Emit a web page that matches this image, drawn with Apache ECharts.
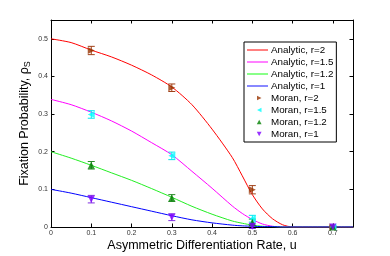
<!DOCTYPE html>
<html>
<head>
<meta charset="utf-8">
<script src="https://cdn.jsdelivr.net/npm/echarts@6/dist/echarts.min.js"></script>
<style>html,body{margin:0;padding:0;background:#fff;}#c{width:390px;height:256px;}</style>
</head>
<body>
<div id="c"></div>
<script>
const uAnalytic = [0,0.05,0.1,0.15,0.2,0.25,0.3,0.35,0.4,0.45,0.475,0.5,0.525,0.55,0.575,0.6,0.65,0.7,0.75];
const analyticR2  = [0.5,0.49,0.47,0.452,0.43,0.404,0.372,0.325,0.26,0.185,0.136,0.086,0.048,0.022,0.006,0,0,0,0];
const analyticR15 = [0.339,0.325,0.305,0.282,0.255,0.224,0.192,0.148,0.103,0.056,0.036,0.02,0.008,0.002,0,0,0,0,0];
const analyticR12 = [0.2,0.183,0.164,0.144,0.124,0.102,0.079,0.055,0.034,0.016,0.01,0.005,0.002,0.001,0,0,0,0,0];
const analyticR1  = [0.1,0.09,0.078,0.066,0.054,0.042,0.03,0.019,0.011,0.005,0.003,0.002,0.001,0.001,0,0,0,0,0];

const uMoran = [0.1,0.3,0.5,0.7];
const moranR2  = [0.469,0.370,0.099,0];
const moranR15 = [0.299,0.189,0.022,0];
const moranR12 = [0.164,0.077,0.012,0];
const moranR1  = [0.074,0.026,0.002,0];
const errR2  = [0.011,0.010,0.011,0.002];
const errR15 = [0.010,0.010,0.009,0.002];
const errR12 = [0.010,0.009,0.009,0.002];
const errR1  = [0.010,0.009,0.006,0.002];

const xTicks = [0,0.1,0.2,0.3,0.4,0.5,0.6,0.7];
const yTicks = [0,0.1,0.2,0.3,0.4,0.5];

const pairs = (xs, ys) => xs.map((x,i)=>[x, ys[i]]);
const triples = (xs, ys, es) => xs.map((x,i)=>[x, ys[i], es[i]]);

const chart = echarts.init(document.getElementById('c'), null, {renderer:'canvas'});
const font = 'Liberation Sans, Arial, Helvetica, sans-serif';

// legend icons: tiny corner specks fix the path bounding box to 21x9
const box = 'M0,0L0.01,0L0,0.01Z M21,9L20.99,9L21,8.99Z ';
const iconLine = 'path://' + box + 'M0,3.6L21,3.6L21,5.4L0,5.4Z';
const iconRight = 'path://' + box + 'M10,2.3L14.5,4.5L10,6.7Z';
const iconLeft  = 'path://' + box + 'M14.5,2.3L10,4.5L14.5,6.7Z';
const iconUp    = 'path://' + box + 'M9.8,6.7L12.2,2.3L14.6,6.7Z';
const iconDown  = 'path://' + box + 'M9.8,2.3L14.6,2.3L12.2,6.7Z';

function lineSeries(name, data, color){
  return {type:'line', name, data, symbol:'none', smooth:0.25, lineStyle:{color, width:1}, itemStyle:{color}, z:2, animation:false, xAxisIndex:0, yAxisIndex:0};
}
function scatterSeries(name, data, color, rot){
  return {type:'scatter', name, data, symbol:'triangle', symbolSize:7, symbolRotate:rot, itemStyle:{color}, z:5, animation:false, xAxisIndex:0, yAxisIndex:0};
}
function errSeries(data, color){
  return {type:'custom', data, z:4, animation:false, silent:true, xAxisIndex:0, yAxisIndex:0,
    renderItem:(params, api)=>{
      const x = api.value(0), y = api.value(1), e = api.value(2);
      const lo = api.coord([x, y-e]), hi = api.coord([x, y+e]);
      const w = 3.5;
      const st = {stroke:color, lineWidth:1, fill:null};
      return {type:'group', children:[
        {type:'line', shape:{x1:lo[0],y1:lo[1],x2:hi[0],y2:hi[1]}, style:st},
        {type:'line', shape:{x1:lo[0]-w,y1:lo[1],x2:lo[0]+w,y2:lo[1]}, style:st},
        {type:'line', shape:{x1:hi[0]-w,y1:hi[1],x2:hi[0]+w,y2:hi[1]}, style:st}
      ]};
    }};
}

const axisCommon = {
  axisLine:{show:true, onZero:false, lineStyle:{color:'#000', width:1}},
  axisTick:{show:true, inside:true, length:3.5, lineStyle:{color:'#000'}},
  splitLine:{show:false},
  nameMoveOverlap:false
};

const option = {
  backgroundColor:'#fff',
  animation:false,
  grid:{left:51, right:37, top:20, bottom:29, containLabel:false, outerBoundsMode:'none'},
  xAxis:[
    Object.assign({type:'value', position:'bottom', min:0, max:0.75, interval:0.1,
      name:'Asymmetric Differentiation Rate, u', nameLocation:'middle', nameGap:12,
      nameTextStyle:{fontFamily:font, fontSize:12.5, color:'#000', verticalAlign:'top'},
      axisLabel:{fontFamily:font, fontSize:7, color:'#333', margin:3, showMaxLabel:false,
        formatter:v=> xTicks.some(t=>Math.abs(t-v)<1e-6) ? String(Math.round(v*10)/10) : ''}
    }, axisCommon),
    Object.assign({type:'value', position:'top', min:0, max:0.75, interval:0.1, axisLabel:{show:false}}, axisCommon)
  ],
  yAxis:[
    Object.assign({type:'value', position:'left', min:0, max:0.55, interval:0.1,
      name:'{m|Fixation Probability, ρ}{s|S}', nameLocation:'middle', nameGap:19, nameRotate:90,
      nameTextStyle:{rich:{m:{fontFamily:font, fontSize:12.5, color:'#000'}, s:{fontFamily:font, fontSize:9, color:'#000', verticalAlign:'bottom', padding:[6,0,0,0]}}},
      axisLabel:{fontFamily:font, fontSize:7, color:'#333', margin:3, showMaxLabel:false,
        formatter:v=> yTicks.some(t=>Math.abs(t-v)<1e-6) ? String(Math.round(v*10)/10) : ''}
    }, axisCommon),
    Object.assign({type:'value', position:'right', min:0, max:0.55, interval:0.1, axisLabel:{show:false}}, axisCommon)
  ],
  legend:{
    orient:'vertical', left:244, top:42, padding:[3,3,3,3], itemGap:2, itemWidth:21, itemHeight:9,
    symbolKeepAspect:true,
    backgroundColor:'#fff', borderColor:'#000', borderWidth:1, borderRadius:0,
    textStyle:{fontFamily:font, fontSize:9.8, lineHeight:9, color:'#000', padding:[0,0,0,-2]},
    data:[
      {name:'Analytic, r=2', icon:iconLine, itemStyle:{color:'#ff8080'}},
      {name:'Analytic, r=1.5', icon:iconLine, itemStyle:{color:'#ff80ff'}},
      {name:'Analytic, r=1.2', icon:iconLine, itemStyle:{color:'#88ff88'}},
      {name:'Analytic, r=1', icon:iconLine, itemStyle:{color:'#8888ff'}},
      {name:'Moran, r=2', icon:iconRight},
      {name:'Moran, r=1.5', icon:iconLeft},
      {name:'Moran, r=1.2', icon:iconUp},
      {name:'Moran, r=1', icon:iconDown}
    ]
  },
  series:[
    lineSeries('Analytic, r=2', pairs(uAnalytic, analyticR2), '#ff0000'),
    lineSeries('Analytic, r=1.5', pairs(uAnalytic, analyticR15), '#ff00ff'),
    lineSeries('Analytic, r=1.2', pairs(uAnalytic, analyticR12), '#22ee22'),
    lineSeries('Analytic, r=1', pairs(uAnalytic, analyticR1), '#0000ff'),
    errSeries(triples(uMoran, moranR2, errR2), '#a04018'),
    errSeries(triples(uMoran, moranR15, errR15), '#00e8f0'),
    errSeries(triples(uMoran, moranR12, errR12), '#2a8a2a'),
    errSeries(triples(uMoran, moranR1, errR1), '#8030e0'),
    scatterSeries('Moran, r=2', pairs(uMoran, moranR2), '#993300', -90),
    scatterSeries('Moran, r=1.5', pairs(uMoran, moranR15), '#00ffff', 90),
    scatterSeries('Moran, r=1.2', pairs(uMoran, moranR12), '#008000', 0),
    scatterSeries('Moran, r=1', pairs(uMoran, moranR1), '#8000ff', 180)
  ]
};
chart.setOption(option);
</script>
</body>
</html>
